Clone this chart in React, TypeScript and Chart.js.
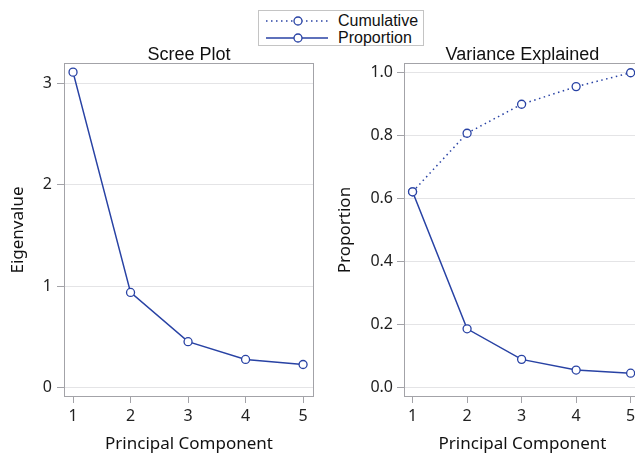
import React, { useEffect, useRef } from "react";
import { Chart, registerables } from "chart.js";

Chart.register(...registerables);

const components = [1, 2, 3, 4, 5];
const eigenvalues = [3.11, 0.94, 0.455, 0.28, 0.23];
const proportion = [0.622, 0.187, 0.09, 0.056, 0.046];
const cumulative = [0.622, 0.808, 0.9, 0.956, 1.0];
const screeTicks = [0, 1, 2, 3];
const varianceTicks = [0, 0.2, 0.4, 0.6, 0.8, 1.0];

const BLUE = "#2842a4";
const TICK_FONT = { family: "'Noto Sans', sans-serif", size: 16 };
const LABEL_FONT = { family: "'Noto Sans', sans-serif", size: 17 };
const TITLE_FONT = "18px 'Liberation Sans', Arial, sans-serif";

const framePlugin = {
  id: "frame",
  afterDraw(chart: any) {
    const { ctx, chartArea } = chart;
    ctx.save();
    ctx.strokeStyle = "#a3a3a8";
    ctx.lineWidth = 1;
    ctx.strokeRect(
      Math.round(chartArea.left) + 0.5,
      Math.round(chartArea.top) + 0.5,
      Math.round(chartArea.right - chartArea.left) - 1,
      Math.round(chartArea.bottom - chartArea.top) - 1
    );
    const title = chart.options.plugins.plotTitle?.text;
    if (title) {
      ctx.fillStyle = "#111";
      ctx.font = TITLE_FONT;
      ctx.textAlign = "center";
      ctx.textBaseline = "alphabetic";
      ctx.fillText(title, (chartArea.left + chartArea.right) / 2, 60);
    }
    ctx.restore();
  },
};

function pts(vals: number[]) {
  return components.map((c, i) => ({ x: c, y: vals[i] }));
}

function makeConfig(opts: {
  title: string;
  yTitle: string;
  datasets: any[];
  yMin: number;
  yMax: number;
  yTicks: number[];
  yWidth: number;
  yTitlePad: number;
  yLabelPad: number;
  rightPad: number;
  decimals: number;
}) {
  return {
    type: "line" as const,
    data: { datasets: opts.datasets },
    options: {
      animation: false as const,
      responsive: false,
      devicePixelRatio: 1,
      layout: { padding: { left: 0, right: opts.rightPad, top: 63, bottom: 0 } },
      plugins: {
        legend: { display: false },
        tooltip: { enabled: false },
        title: { display: false },
        plotTitle: { text: opts.title },
      },
      scales: {
        x: {
          type: "linear" as const,
          min: 0.843,
          max: 5.19,
          afterBuildTicks: (s: any) => {
            s.ticks = components.map((v) => ({ value: v }));
          },
          afterFit: (s: any) => {
            s.height = 57;
          },
          border: { display: false },
          grid: {
            drawOnChartArea: false,
            drawTicks: true,
            tickLength: 6,
            tickColor: "#a3a3a8",
          },
          ticks: {
            color: "#222",
            font: TICK_FONT,
            padding: 4,
            maxRotation: 0,
            autoSkip: false,
            callback: (v: any) => String(v),
          },
          title: {
            display: true,
            text: "Principal Component",
            color: "#111",
            font: LABEL_FONT,
            padding: { top: 0, bottom: 0 },
          },
        },
        y: {
          type: "linear" as const,
          min: opts.yMin,
          max: opts.yMax,
          afterBuildTicks: (s: any) => {
            s.ticks = opts.yTicks.map((v) => ({ value: v }));
          },
          afterFit: (s: any) => {
            s.width = opts.yWidth;
          },
          border: { display: false },
          grid: {
            color: "#e4e4e6",
            lineWidth: 1,
            drawTicks: true,
            tickLength: 7,
            tickColor: "#a3a3a8",
          },
          ticks: {
            color: "#222",
            font: TICK_FONT,
            padding: opts.yLabelPad,
            autoSkip: false,
            callback: (v: any) => Number(v).toFixed(opts.decimals),
          },
          title: {
            display: true,
            text: opts.yTitle,
            color: "#111",
            font: LABEL_FONT,
            padding: { top: opts.yTitlePad, bottom: 0 },
          },
        },
      },
    },
    plugins: [framePlugin],
  };
}

const lineStyle = {
  borderColor: BLUE,
  borderWidth: 1.5,
  pointRadius: 4,
  pointBorderWidth: 1.3,
  pointBorderColor: BLUE,
  pointBackgroundColor: "#ffffff",
  pointStyle: "circle",
  tension: 0,
  fill: false,
  clip: false,
};

function ChartCanvas({ config, width, height, left }: any) {
  const ref = useRef<HTMLCanvasElement | null>(null);
  useEffect(() => {
    if (!ref.current) return;
    const chart = new Chart(ref.current, config);
    return () => chart.destroy();
  }, []);
  return (
    <canvas
      ref={ref}
      width={width}
      height={height}
      style={{ position: "absolute", left, top: 0, width, height }}
    />
  );
}

function LegendIcon({ dotted }: { dotted: boolean }) {
  return (
    <svg width={62} height={16} style={{ display: "block" }}>
      <line
        x1={0}
        y1={8}
        x2={62}
        y2={8}
        stroke={BLUE}
        strokeWidth={1.5}
        strokeDasharray={dotted ? "1.5 3.5" : undefined}
      />
      <circle cx={32} cy={8} r={4} fill="#fff" stroke={BLUE} strokeWidth={1.3} />
    </svg>
  );
}

export default function App() {
  const screeConfig = makeConfig({
    title: "Scree Plot",
    yTitle: "Eigenvalue",
    datasets: [{ ...lineStyle, label: "Eigenvalue", data: pts(eigenvalues) }],
    yMin: -0.09,
    yMax: 3.2,
    yTicks: screeTicks,
    yWidth: 64,
    yTitlePad: 8,
    yLabelPad: 5,
    rightPad: 6,
    decimals: 0,
  });
  const varConfig = makeConfig({
    title: "Variance Explained",
    yTitle: "Proportion",
    datasets: [
      { ...lineStyle, label: "Cumulative", data: pts(cumulative), borderDash: [1.5, 3.5] },
      { ...lineStyle, label: "Proportion", data: pts(proportion) },
    ],
    yMin: -0.0295,
    yMax: 1.031,
    yTicks: varianceTicks,
    yWidth: 84,
    yTitlePad: 15,
    yLabelPad: 4,
    rightPad: 9,
    decimals: 1,
  });

  const legendRow: React.CSSProperties = {
    display: "flex",
    alignItems: "center",
    height: 17,
  };
  const legendText: React.CSSProperties = {
    fontFamily: "'Liberation Sans', Arial, sans-serif",
    fontSize: 16,
    color: "#111",
    marginLeft: 10,
    lineHeight: "17px",
  };

  return (
    <div
      style={{
        position: "fixed",
        left: 0,
        top: 0,
        width: 635,
        height: 454,
        overflow: "hidden",
        background: "#fff",
      }}
    >
      <ChartCanvas config={screeConfig} width={320} height={454} left={0} />
      <ChartCanvas config={varConfig} width={330} height={454} left={320} />
      <div
        style={{
          position: "absolute",
          left: 258,
          top: 10,
          width: 164,
          height: 34,
          border: "1px solid #c4c4c4",
          background: "#fff",
          boxSizing: "content-box",
        }}
      >
        <div style={{ position: "absolute", left: 7, top: 1 }}>
          <div style={legendRow}>
            <LegendIcon dotted={true} />
            <span style={legendText}>Cumulative</span>
          </div>
          <div style={legendRow}>
            <LegendIcon dotted={false} />
            <span style={legendText}>Proportion</span>
          </div>
        </div>
      </div>
    </div>
  );
}
